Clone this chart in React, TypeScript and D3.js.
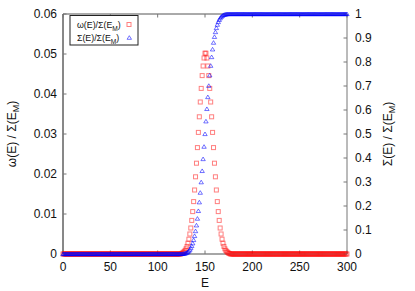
import React from 'react';
import * as d3 from 'd3';

// energies run 0..300, the peak window holds the non-zero part
const E_MIN = 0;
const E_MAX = 300;
const WINDOW_START = 125;

// omega(E)/Sigma(E_M) for E = 125..176
const omegaWindow = [
  0.0001, 0.0002, 0.0004, 0.0006, 0.0009, 0.0013, 0.0019, 0.0027, 0.0037, 0.005,
  0.0065, 0.0084, 0.0106, 0.0131, 0.016, 0.0193, 0.0227, 0.0266, 0.0304, 0.0343,
  0.038, 0.0414, 0.0446, 0.047, 0.049, 0.0502, 0.0502, 0.049, 0.047, 0.0446,
  0.0414, 0.038, 0.0343, 0.0304, 0.0266, 0.0227, 0.0193, 0.016, 0.0131, 0.0106,
  0.0084, 0.0065, 0.005, 0.0037, 0.0027, 0.0019, 0.0013, 0.0009, 0.0006, 0.0004,
  0.0002, 0.0001,
];

// Sigma(E)/Sigma(E_M) for E = 125..176
const sigmaWindow = [
  0.0001, 0.0003, 0.0007, 0.0014, 0.0023, 0.0037, 0.0057, 0.0085, 0.0124, 0.0177,
  0.0245, 0.0334, 0.0445, 0.0583, 0.0752, 0.0955, 0.1194, 0.1474, 0.1794, 0.2155,
  0.2555, 0.2991, 0.3461, 0.3956, 0.4472, 0.5, 0.5528, 0.6044, 0.6539, 0.7009,
  0.7445, 0.7845, 0.8206, 0.8526, 0.8806, 0.9048, 0.9248, 0.9417, 0.9555, 0.9666,
  0.9755, 0.9823, 0.9876, 0.9915, 0.9943, 0.9963, 0.9977, 0.9986, 0.9993, 0.9997,
  0.9999, 1,
];

const xTicks = [0, 50, 100, 150, 200, 250, 300];
const yLeftTicks = [0, 0.01, 0.02, 0.03, 0.04, 0.05, 0.06];
const yRightTicks = [0, 0.1, 0.2, 0.3, 0.4, 0.5, 0.6, 0.7, 0.8, 0.9, 1];

const W = 415;
const H = 291;
const margin = { top: 14, right: 68, bottom: 37, left: 63 };
const FONT = '"Liberation Sans", Arial, sans-serif';
const RED = 'rgba(255,0,0,0.5)';
const BLUE = 'rgba(0,0,255,0.55)';

const energies = d3.range(E_MIN, E_MAX + 1);
const omegaAt = (e: number) => {
  const i = e - WINDOW_START;
  return i >= 0 && i < omegaWindow.length ? omegaWindow[i] : 0;
};
const sigmaAt = (e: number) => {
  const i = e - WINDOW_START;
  if (i < 0) return 0;
  return i < sigmaWindow.length ? sigmaWindow[i] : 1;
};

const Square = ({ x, y }: { x: number; y: number }) => (
  <rect x={x - 2} y={y - 2} width={4} height={4} fill="none" stroke={RED} strokeWidth={1} />
);

const Triangle = ({ x, y }: { x: number; y: number }) => (
  <path d={`M${x - 2.2},${y + 1.6}L${x + 2.2},${y + 1.6}L${x},${y - 2}Z`} fill="none" stroke={BLUE} strokeWidth={1} />
);

const MLabel = ({ head }: { head: string }) => (
  <>
    {head}
    <tspan fontSize="0.75em" dy={3}>M</tspan>
    <tspan dy={-3}>)</tspan>
  </>
);

const App: React.FC = () => {
  const x0 = margin.left;
  const x1 = W - margin.right;
  const yTop = margin.top;
  const yBot = H - margin.bottom;

  const x = d3.scaleLinear().domain([E_MIN, E_MAX]).range([x0, x1]);
  const yL = d3.scaleLinear().domain([0, 0.06]).range([yBot, yTop]);
  const yR = d3.scaleLinear().domain([0, 1]).range([yBot, yTop]);

  return (
    <svg width={W} height={H} style={{ position: 'absolute', left: 0, top: 0, background: '#fff' }} fontFamily={FONT}>
      {/* frame */}
      <line x1={x0} x2={x1} y1={yBot} y2={yBot} stroke="#888" strokeWidth={1.3} />
      <line x1={x0} x2={x1} y1={yTop} y2={yTop} stroke="#555" />
      <line x1={x0} x2={x0} y1={yTop} y2={yBot} stroke="#111" />
      <line x1={x1} x2={x1} y1={yTop} y2={yBot} stroke="#777" />

      {/* x ticks */}
      {xTicks.map((t) => (
        <g key={`x${t}`}>
          <line x1={x(t)} x2={x(t)} y1={yBot} y2={yBot - 3.5} stroke="#777" />
          <line x1={x(t)} x2={x(t)} y1={yTop} y2={yTop + 3.5} stroke="#777" />
          <text x={x(t)} y={yBot + 17} fontSize={12} textAnchor="middle" fill="#111">{t}</text>
        </g>
      ))}

      {/* left ticks */}
      {yLeftTicks.map((t) => (
        <g key={`l${t}`}>
          <line x1={x0} x2={x0 + 3.5} y1={yL(t)} y2={yL(t)} stroke="#777" />
          <text x={x0 - 6} y={yL(t) + 4.3} fontSize={12} textAnchor="end" fill="#111">{t}</text>
        </g>
      ))}

      {/* right ticks */}
      {yRightTicks.map((t) => (
        <g key={`r${t}`}>
          <line x1={x1} x2={x1 - 3.5} y1={yR(t)} y2={yR(t)} stroke="#777" />
          <text x={x1 + 8} y={yR(t) + 4.3} fontSize={12} textAnchor="start" fill="#111">{t}</text>
        </g>
      ))}

      {/* axis titles */}
      <text x={(x0 + x1) / 2} y={H - 4} fontSize={12} textAnchor="middle" fill="#111">E</text>
      <text transform={`translate(16,${(yTop + yBot) / 2}) rotate(-90)`} fontSize={12} textAnchor="middle" fill="#111">
        <MLabel head="ω(E) / Σ(E" />
      </text>
      <text transform={`translate(392,${(yTop + yBot) / 2}) rotate(-90)`} fontSize={12} textAnchor="middle" fill="#111">
        <MLabel head="Σ(E) / Σ(E" />
      </text>

      {/* data */}
      <g>
        {energies.map((e) => (
          <Square key={`s${e}`} x={x(e)} y={yL(omegaAt(e))} />
        ))}
      </g>
      <g>
        {energies.map((e) => (
          <Triangle key={`t${e}`} x={x(e)} y={yR(sigmaAt(e))} />
        ))}
      </g>

      {/* legend */}
      <rect x={70} y={15.5} width={68} height={29.5} fill="#fff" stroke="#222" strokeWidth={1} />
      <text x={77} y={28.2} fontSize={8.8} fill="#111">
        <MLabel head="ω(E)/Σ(E" />
      </text>
      <Square x={129} y={24.5} />
      <text x={77} y={40.8} fontSize={8.8} fill="#111">
        <MLabel head="Σ(E)/Σ(E" />
      </text>
      <Triangle x={129.3} y={37.7} />
    </svg>
  );
};

export default App;
